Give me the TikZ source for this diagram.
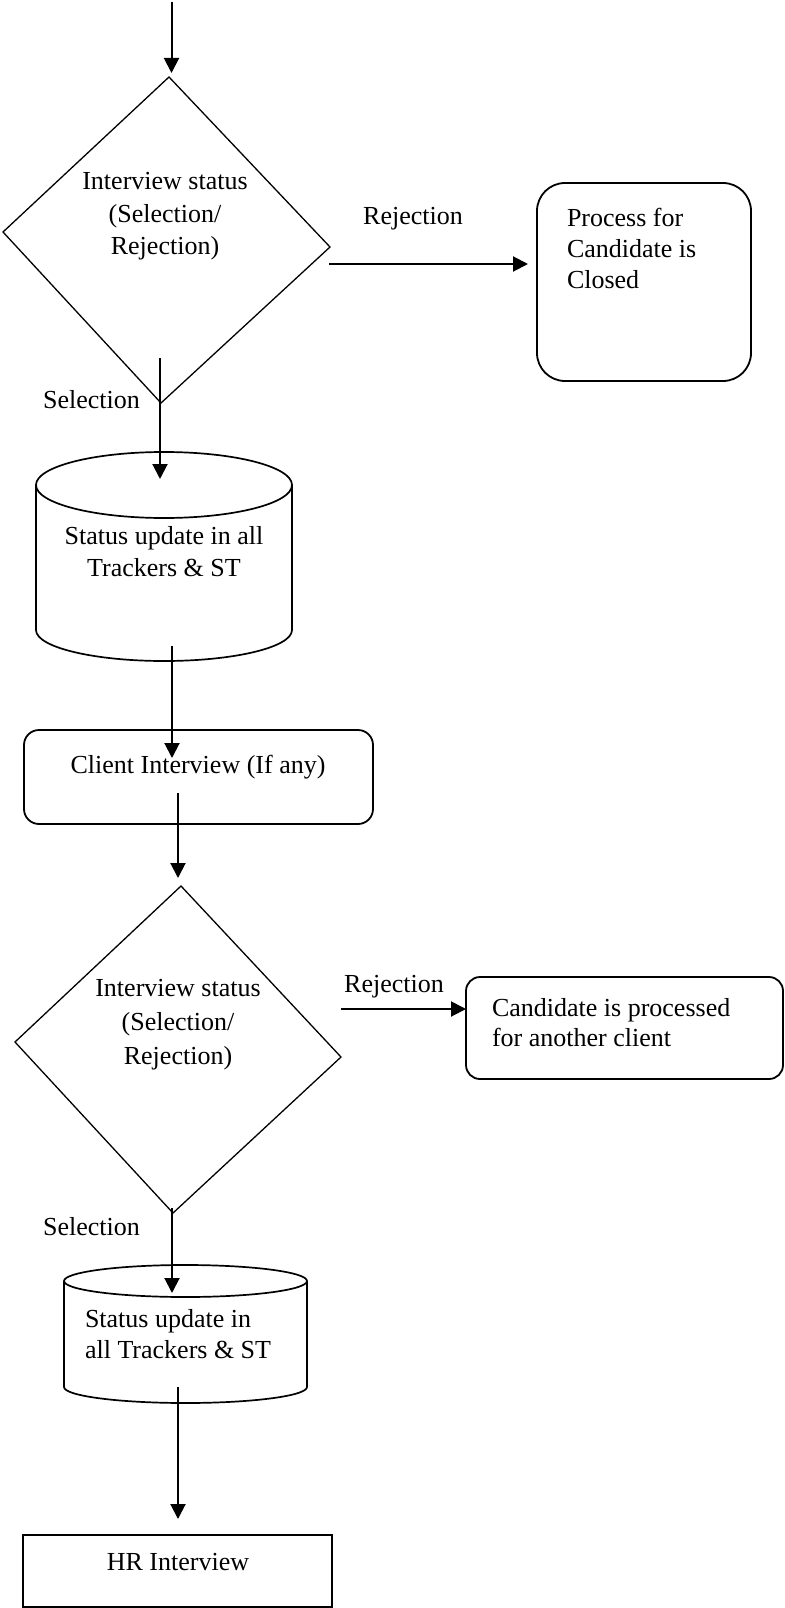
\documentclass[tikz,border=0pt]{standalone}
\usepackage{fontspec}
\setmainfont{Liberation Serif}
\usetikzlibrary{arrows.meta}
\begin{document}
\begin{tikzpicture}[x=1pt,y=1pt,
  txt/.style={font=\fontsize{26}{32}\selectfont, inner sep=0pt, outer sep=0pt},
  dshape/.style={line width=1.3pt, line join=miter},
  cyl/.style={line width=1.7pt},
  boxline/.style={draw, line width=1.8pt, inner sep=0pt, outer sep=0pt},
  flow/.style={line width=2pt, -{Triangle[length=15pt,width=15pt]}},
]
\useasboundingbox (0,0) rectangle (784,-1608);

% ---------- decision 1
\coordinate (d1t) at (169,-77);
\coordinate (d1l) at (3,-232);
\coordinate (d1r) at (330,-247);
\coordinate (d1b) at (161,-403);
\draw[dshape] (d1t) -- (d1r) -- (d1b) -- (d1l) -- cycle;
\node[txt, align=center, font=\fontsize{26}{32.5}\selectfont] (d1txt) at (165,-216.6)
  {Interview status\\(Selection/\\Rejection)};

% ---------- closed box
\node[boxline, rounded corners=28pt, minimum width=214pt, minimum height=198pt] (box1) at (644,-282) {};
\node[txt, align=left, anchor=west, font=\fontsize{26}{31}\selectfont] (box1txt) at (567,-248)
  {Process for\\Candidate is\\Closed};
\node[txt, anchor=base] (rej1) at (413,-225) {Rejection};
\node[txt, anchor=base] (sel1) at (91.5,-408) {Selection};

% ---------- cylinder 1
\draw[cyl] (164,-485) ellipse [x radius=128pt, y radius=33pt];
\draw[cyl] (36,-485) -- (36,-630) arc[start angle=180, end angle=360, x radius=128pt, y radius=31pt] -- (292,-485);
\node[txt, align=center] (c1txt) at (164,-552) {Status update in all\\Trackers \& ST};

% ---------- client interview
\node[boxline, rounded corners=15pt, minimum width=349pt, minimum height=94pt] (client) at (198.5,-777) {};
\node[txt, anchor=base] (clienttxt) at (198,-773) {Client Interview (If any)};

% ---------- decision 2
\coordinate (d2t) at (181,-886);
\coordinate (d2l) at (15,-1042);
\coordinate (d2r) at (341,-1057);
\coordinate (d2b) at (173,-1213);
\draw[dshape] (d2t) -- (d2r) -- (d2b) -- (d2l) -- cycle;
\node[txt, align=center, font=\fontsize{26}{34}\selectfont] (d2txt) at (178,-1025.1)
  {Interview status\\(Selection/\\Rejection)};

% ---------- another client box
\node[boxline, rounded corners=14pt, minimum width=317pt, minimum height=102pt] (box2) at (624.5,-1028) {};
\node[txt, align=left, anchor=west, font=\fontsize{26}{30}\selectfont] (box2txt) at (492,-1023)
  {Candidate is processed\\for another client};
\node[txt, anchor=base] (rej2) at (394,-992) {Rejection};
\node[txt, anchor=base] (sel2) at (91.5,-1235) {Selection};

% ---------- cylinder 2
\draw[cyl] (185.5,-1281) ellipse [x radius=121.5pt, y radius=16pt];
\draw[cyl] (64,-1281) -- (64,-1387) arc[start angle=180, end angle=360, x radius=121.5pt, y radius=16pt] -- (307,-1281);
\node[txt, align=left, anchor=west, font=\fontsize{26}{31}\selectfont] (c2txt) at (85,-1333.6)
  {Status update in\\all Trackers \& ST};

% ---------- HR interview
\node[boxline, minimum width=309pt, minimum height=72pt] (hr) at (177.5,-1571) {};
\node[txt, anchor=base] (hrtxt) at (178,-1570) {HR Interview};

% ---------- connectors
\coordinate (a0s) at (171.5,-2);   \coordinate (a0e) at (171.5,-73);
\coordinate (r1s) at (329,-264);   \coordinate (r1e) at (528,-264);
\coordinate (s1s) at (160,-358);   \coordinate (s1e) at (160,-479);
\coordinate (c1s) at (172,-646);   \coordinate (c1e) at (172,-758);
\coordinate (k1s) at (178,-793);   \coordinate (k1e) at (178,-878);
\coordinate (r2s) at (341,-1009);  \coordinate (r2e) at (466,-1009);
\coordinate (s2s) at (172,-1208);  \coordinate (s2e) at (172,-1293);
\coordinate (c2s) at (178,-1387);  \coordinate (c2e) at (178,-1519);
\draw[flow] (a0s) -- (a0e);
\draw[flow] (r1s) -- (r1e);
\draw[flow] (s1s) -- (s1e);
\draw[flow] (c1s) -- (c1e);
\draw[flow] (k1s) -- (k1e);
\draw[flow] (r2s) -- (r2e);
\draw[flow] (s2s) -- (s2e);
\draw[flow] (c2s) -- (c2e);
\end{tikzpicture}
\end{document}
